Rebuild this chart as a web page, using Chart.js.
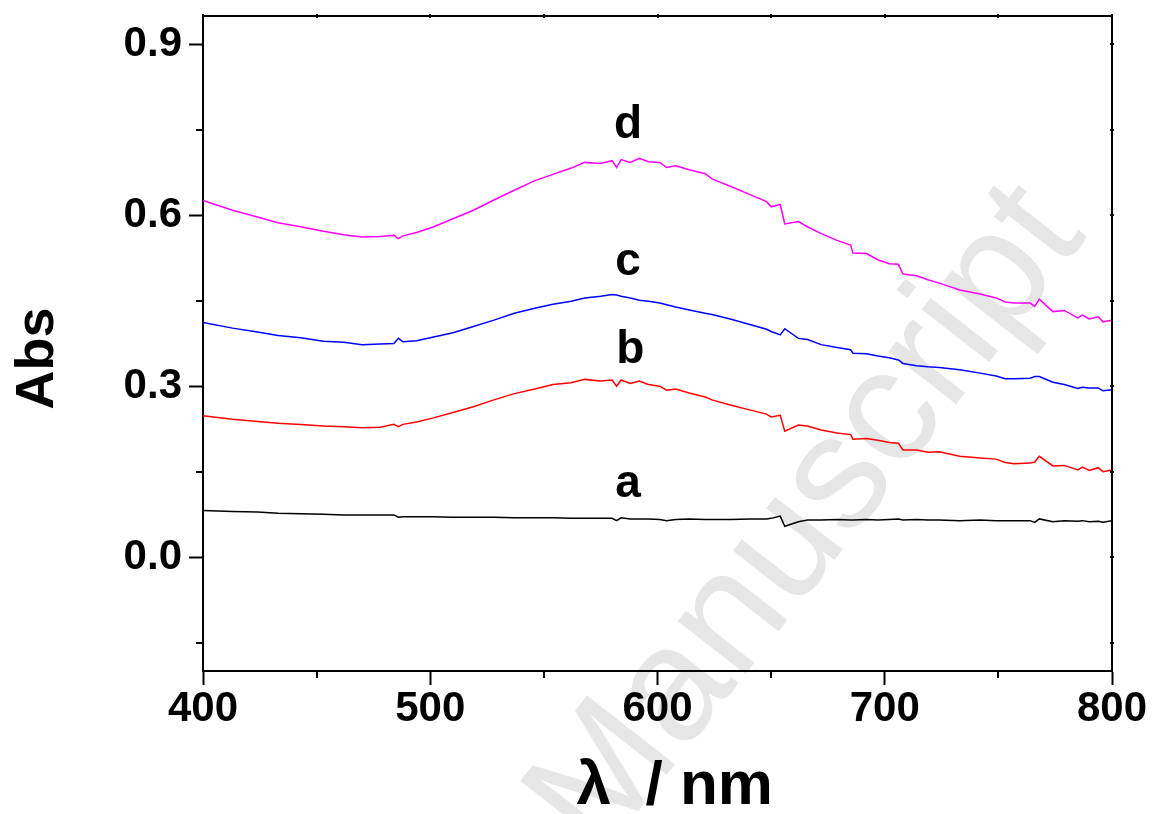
<!DOCTYPE html>
<html>
<head>
<meta charset="utf-8">
<script src="https://cdn.jsdelivr.net/npm/chart.js@4.4.1/dist/chart.umd.min.js"></script>
<style>
  html, body { margin: 0; padding: 0; background: #ffffff; }
  #wrap { width: 1153px; height: 814px; position: relative; }
</style>
</head>
<body>
<div id="wrap"><canvas id="c"></canvas></div>
<script>
// ---- data ----
const wavelengths = [400,413,424,433,443,453,462,470,478,484,486,488,494,501,510,519,528,537,546,554,562,568,575,580,582,584,588,592,596,601,604,608,614,621,624,632,641,648,650,654,656,662,666,672,679,685,686,692,697,702,706,708,714,719,724,733,742,749,753,757,764,766,768,774,779,785,787,790,794,796,800];

const seriesA = [0.082,0.080,0.079,0.077,0.076,0.075,0.074,0.074,0.074,0.074,0.070,0.071,0.071,0.071,0.070,0.070,0.070,0.069,0.069,0.069,0.068,0.068,0.068,0.068,0.064,0.069,0.067,0.067,0.067,0.066,0.064,0.066,0.067,0.066,0.066,0.066,0.067,0.067,0.068,0.072,0.054,0.062,0.065,0.065,0.066,0.065,0.065,0.066,0.065,0.066,0.067,0.065,0.066,0.065,0.065,0.064,0.065,0.064,0.064,0.064,0.064,0.061,0.067,0.062,0.064,0.063,0.064,0.062,0.063,0.061,0.064];

const seriesB = [0.248,0.242,0.238,0.235,0.233,0.230,0.229,0.227,0.228,0.233,0.229,0.233,0.237,0.244,0.254,0.264,0.276,0.287,0.295,0.303,0.306,0.312,0.309,0.311,0.300,0.311,0.305,0.309,0.303,0.300,0.293,0.295,0.288,0.281,0.276,0.267,0.258,0.251,0.246,0.249,0.221,0.232,0.230,0.223,0.218,0.215,0.207,0.208,0.205,0.201,0.200,0.188,0.188,0.184,0.185,0.177,0.174,0.172,0.166,0.164,0.165,0.167,0.177,0.160,0.161,0.153,0.158,0.152,0.157,0.150,0.153];

const seriesC = [0.412,0.402,0.395,0.389,0.385,0.379,0.377,0.373,0.374,0.375,0.384,0.378,0.380,0.386,0.394,0.405,0.416,0.428,0.437,0.444,0.449,0.455,0.458,0.461,0.460,0.458,0.455,0.451,0.449,0.446,0.443,0.439,0.434,0.428,0.426,0.418,0.408,0.400,0.396,0.390,0.401,0.384,0.382,0.373,0.368,0.364,0.358,0.357,0.353,0.350,0.346,0.340,0.336,0.334,0.333,0.329,0.323,0.318,0.313,0.313,0.314,0.317,0.317,0.307,0.303,0.296,0.298,0.297,0.297,0.292,0.294];

const seriesD = [0.626,0.609,0.597,0.587,0.580,0.572,0.566,0.562,0.563,0.565,0.559,0.564,0.570,0.579,0.594,0.609,0.627,0.644,0.661,0.672,0.683,0.693,0.691,0.696,0.684,0.698,0.693,0.700,0.694,0.693,0.684,0.687,0.680,0.673,0.664,0.651,0.636,0.624,0.615,0.619,0.585,0.589,0.580,0.568,0.556,0.548,0.534,0.533,0.522,0.515,0.514,0.497,0.494,0.487,0.481,0.469,0.462,0.455,0.448,0.446,0.446,0.440,0.453,0.431,0.433,0.420,0.425,0.418,0.422,0.413,0.416];

const seriesNames = ['a', 'b', 'c', 'd'];
const curveLabelNm = [587, 588, 587, 587];
const curveLabelAbs = [0.105, 0.340, 0.495, 0.735];

const xMajorTicks = [400, 500, 600, 700, 800];
const xMinorTicks = [450, 550, 650, 750];
const yMajorTicks = [0.0, 0.3, 0.6, 0.9];
const yMinorTicks = [-0.15, 0.15, 0.45, 0.75];
const xRange = [400, 800];
const yRange = [-0.2, 0.95];

const xTitle = '  \u03bb  / nm';
const yTitle = 'Abs  ';
const watermark = 'Accepted Manuscript';

// ---- styling ----
const FONT = '"Liberation Sans", Arial, Helvetica, sans-serif';
const colors = ['#000000', '#ff0000', '#0000ff', '#ff00ff'];
const allSeries = [seriesA, seriesB, seriesC, seriesD];

const datasets = allSeries.map((s, i) => ({
  label: seriesNames[i],
  data: wavelengths.map((w, k) => ({ x: w, y: s[k] })),
  borderColor: colors[i],
  backgroundColor: colors[i],
  borderWidth: 1.5,
  pointRadius: 0,
  tension: 0,
  fill: false
}));

const decorPlugin = {
  id: 'decor',
  beforeDraw(chart) {
    const ctx = chart.ctx;
    ctx.save();
    ctx.fillStyle = '#ffffff';
    ctx.fillRect(0, 0, chart.width, chart.height);
    // watermark
    ctx.translate(600, 860);
    ctx.rotate(-52 * Math.PI / 180);
    ctx.font = '162px ' + FONT;
    ctx.fillStyle = '#e6e6e6';
    ctx.textBaseline = 'alphabetic';
    const pre = ctx.measureText('Accepted ').width;
    ctx.textAlign = 'left';
    ctx.fillText(watermark, -pre, 0);
    ctx.restore();
  },
  afterDraw(chart) {
    const ctx = chart.ctx;
    const a = chart.chartArea;
    const xs = chart.scales.x, ys = chart.scales.y;
    ctx.save();
    ctx.strokeStyle = '#000';
    ctx.lineWidth = 2;
    ctx.lineCap = 'butt';
    // frame top & right
    ctx.beginPath();
    ctx.moveTo(a.left - 1, a.top);
    ctx.lineTo(a.right, a.top);
    ctx.lineTo(a.right, a.bottom + 1);
    ctx.stroke();
    // minor ticks
    ctx.beginPath();
    xMinorTicks.forEach(v => {
      const px = Math.round(xs.getPixelForValue(v));
      ctx.moveTo(px, a.bottom);
      ctx.lineTo(px, a.bottom + 7);
    });
    yMinorTicks.forEach(v => {
      const py = Math.round(ys.getPixelForValue(v));
      ctx.moveTo(a.left, py);
      ctx.lineTo(a.left - 7, py);
    });
    ctx.stroke();
    // small mirrored ticks on top and right
    ctx.beginPath();
    xMajorTicks.concat(xMinorTicks).forEach(v => {
      const px = Math.round(xs.getPixelForValue(v));
      ctx.moveTo(px, a.top + 2);
      ctx.lineTo(px, a.top - 2);
    });
    yMajorTicks.concat(yMinorTicks).forEach(v => {
      const py = Math.round(ys.getPixelForValue(v));
      ctx.moveTo(a.right - 2, py);
      ctx.lineTo(a.right + 2, py);
    });
    ctx.stroke();
    // curve labels
    ctx.fillStyle = '#000';
    ctx.font = 'bold 46px ' + FONT;
    ctx.textAlign = 'center';
    ctx.textBaseline = 'alphabetic';
    seriesNames.forEach((n, i) => {
      ctx.fillText(n, xs.getPixelForValue(curveLabelNm[i]), ys.getPixelForValue(curveLabelAbs[i]));
    });
    ctx.restore();
  }
};

new Chart(document.getElementById('c'), {
  type: 'line',
  data: { datasets },
  plugins: [decorPlugin],
  options: {
    responsive: true,
    maintainAspectRatio: false,
    animation: false,
    events: [],
    layout: { padding: { left: 0, top: 16, right: 41, bottom: 0 } },
    plugins: { legend: { display: false }, tooltip: { enabled: false } },
    scales: {
      x: {
        type: 'linear',
        position: 'bottom',
        min: xRange[0],
        max: xRange[1],
        afterBuildTicks: s => { s.ticks = xMajorTicks.map(v => ({ value: v })); },
        afterFit: s => { s.height = 143; s.paddingLeft = 0; s.paddingRight = 0; },
        border: { display: true, color: '#000', width: 2 },
        grid: { display: true, drawOnChartArea: false, drawTicks: true, tickLength: 14, tickWidth: 2, tickColor: '#000' },
        ticks: {
          color: '#000',
          padding: 3,
          maxRotation: 0,
          font: { family: FONT, size: 42, weight: 'bold', lineHeight: 1 },
          callback: v => String(v)
        },
        title: {
          display: true,
          text: xTitle,
          color: '#000',
          font: { family: FONT, size: 62, weight: 'bold', lineHeight: 0.8 },
          padding: { top: 0, bottom: 2 }
        }
      },
      y: {
        type: 'linear',
        position: 'left',
        min: yRange[0],
        max: yRange[1],
        afterBuildTicks: s => { s.ticks = yMajorTicks.map(v => ({ value: v })); },
        afterFit: s => { s.width = 203; s.paddingTop = 0; s.paddingBottom = 0; },
        border: { display: true, color: '#000', width: 2 },
        grid: { display: true, drawOnChartArea: false, drawTicks: true, tickLength: 14, tickWidth: 2, tickColor: '#000' },
        ticks: {
          color: '#000',
          padding: 7,
          font: { family: FONT, size: 42, weight: 'bold', lineHeight: 1 },
          callback: v => v.toFixed(1)
        },
        title: {
          display: true,
          text: yTitle,
          color: '#000',
          font: { family: FONT, size: 54, weight: 'bold', lineHeight: 1.2 },
          padding: { top: 6, bottom: 0 }
        }
      }
    }
  }
});
</script>
</body>
</html>
